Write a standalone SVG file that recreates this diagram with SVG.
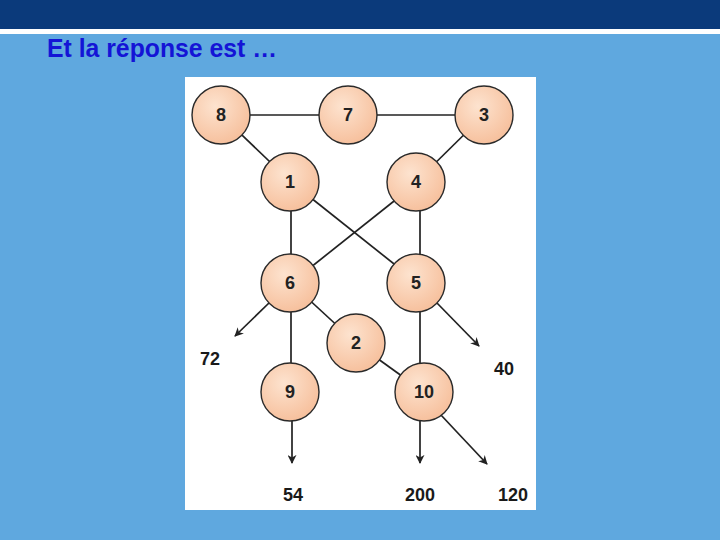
<svg xmlns="http://www.w3.org/2000/svg" width="720" height="540" viewBox="0 0 720 540">
<defs>
<radialGradient id="g" cx="0.4" cy="0.35" r="0.7">
<stop offset="0" stop-color="#fde3cf"/>
<stop offset="1" stop-color="#f6be9a"/>
</radialGradient>
<marker id="ah" viewBox="0 0 10 10" refX="9" refY="5" markerWidth="9" markerHeight="9" markerUnits="userSpaceOnUse" orient="auto">
<path d="M0,0 L10,5 L0,10 L3,5 z" fill="#222"/>
</marker>
<style>
.n circle{fill:url(#g);stroke:#2a2a2a;stroke-width:1.4}
.n text{font-family:"Liberation Sans",Arial,sans-serif;font-weight:bold;font-size:18px;fill:#222;text-anchor:middle}
.e line{stroke:#222;stroke-width:1.7}
.a{marker-end:url(#ah)}
.lbl{font-family:"Liberation Sans",Arial,sans-serif;font-weight:bold;font-size:18px;fill:#1a1a1a;text-anchor:middle}
</style>
</defs>
<rect width="720" height="540" fill="#5fa8df"/>
<rect width="720" height="29" fill="#0b3a7b"/>
<rect y="29" width="720" height="5" fill="#ffffff"/>
<text x="47" y="57" font-family="'Liberation Sans',Arial,sans-serif" font-weight="bold" font-size="26" fill="#1414d6" textLength="230" lengthAdjust="spacingAndGlyphs">Et la réponse est …</text>
<rect x="185" y="77" width="351" height="433" fill="#ffffff"/>
<g id="connectors" class="e">
<line x1="221" y1="115" x2="348" y2="115"/>
<line x1="348" y1="115" x2="484" y2="115"/>
<line x1="221" y1="115" x2="291" y2="182"/>
<line x1="484" y1="115" x2="416" y2="182"/>
<line x1="291" y1="182" x2="291" y2="283"/>
<line x1="291" y1="182" x2="418" y2="283"/>
<line x1="418" y1="182" x2="291" y2="283"/>
<line x1="420" y1="182" x2="420" y2="283"/>
<line x1="291" y1="283" x2="291" y2="392"/>
<line x1="291" y1="283" x2="356" y2="343"/>
<line x1="356" y1="343" x2="424" y2="392"/>
<line x1="420" y1="283" x2="420" y2="392"/>
<line class="a" x1="270" y1="302" x2="235" y2="336"/>
<line class="a" x1="436" y1="302" x2="479" y2="346"/>
<line class="a" x1="292" y1="420" x2="292" y2="463"/>
<line class="a" x1="420" y1="420" x2="420" y2="463"/>
<line class="a" x1="440" y1="414" x2="487" y2="464"/>
</g>
<g id="n8" class="n"><circle cx="221" cy="115" r="29"/><text x="221" y="121">8</text></g>
<g id="n7" class="n"><circle cx="348" cy="115" r="29"/><text x="348" y="121">7</text></g>
<g id="n3" class="n"><circle cx="484" cy="115" r="29"/><text x="484" y="121">3</text></g>
<g id="n1" class="n"><circle cx="290" cy="182" r="29"/><text x="290" y="188">1</text></g>
<g id="n4" class="n"><circle cx="416" cy="182" r="29"/><text x="416" y="188">4</text></g>
<g id="n6" class="n"><circle cx="290" cy="283" r="29"/><text x="290" y="289">6</text></g>
<g id="n5" class="n"><circle cx="416" cy="283" r="29"/><text x="416" y="289">5</text></g>
<g id="n2" class="n"><circle cx="356" cy="343" r="29"/><text x="356" y="349">2</text></g>
<g id="n9" class="n"><circle cx="290" cy="392" r="29"/><text x="290" y="398">9</text></g>
<g id="n10" class="n"><circle cx="424" cy="392" r="29"/><text x="424" y="398">10</text></g>
<text class="lbl" x="210" y="365">72</text>
<text class="lbl" x="504" y="375">40</text>
<text class="lbl" x="293" y="501">54</text>
<text class="lbl" x="420" y="501">200</text>
<text class="lbl" x="513" y="501">120</text>
</svg>
